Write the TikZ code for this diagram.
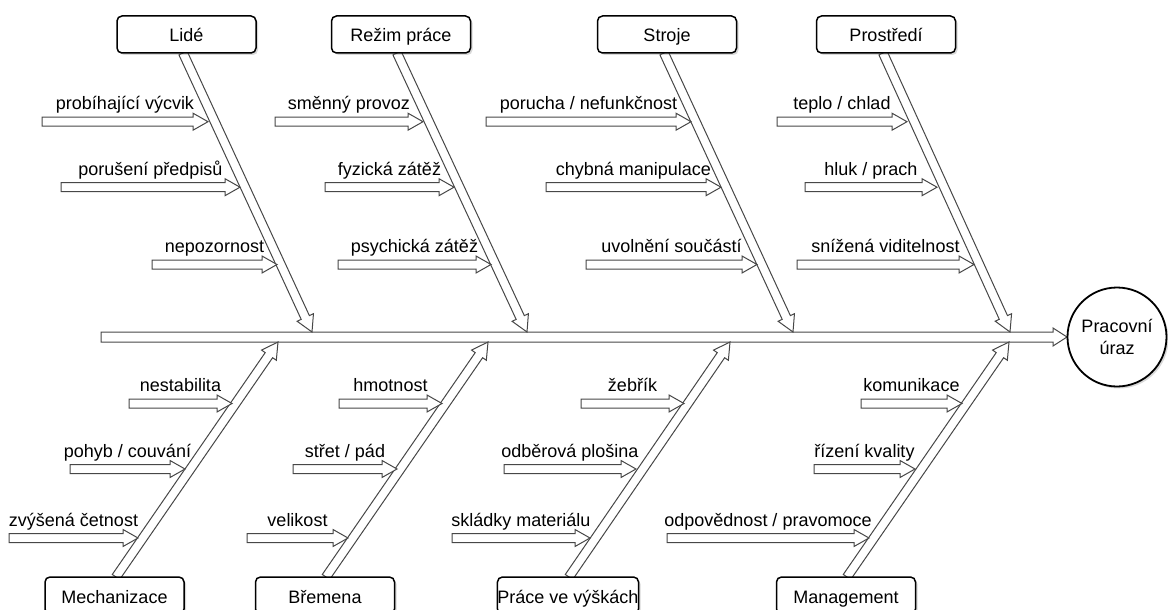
\documentclass[tikz,border=0pt]{standalone}
\usepackage{fontspec}
\setmainfont{Liberation Sans}
\usetikzlibrary{calc,shadows}
\tikzset{
  catbox/.style={draw=black, line width=1.5pt, rounded corners=5pt, fill=white,
    minimum width=139pt, minimum height=37pt, inner sep=0pt,
    font=\fontsize{18}{20}\selectfont, text height=15pt, text depth=0pt,
    drop shadow={shadow xshift=2pt, shadow yshift=-2pt, opacity=0.3}},
  lbl/.style={anchor=base, inner sep=0pt, font=\fontsize{18}{20}\selectfont},
  farrow/.style={draw=black!72, line width=1pt, fill=white, line join=miter},
}
% #1 start, #2 tip, #3 half body, #4 half head, #5 head length
\newcommand{\flexarr}[5]{%
  \coordinate (fah) at ($(#2)!#5!(#1)$);
  \draw[farrow] ($(#1)!#3!90:(#2)$) -- ($(fah)!#3!90:(#2)$) -- ($(fah)!#4!90:(#2)$)
    -- (#2) -- ($(fah)!#4!-90:(#2)$) -- ($(fah)!#3!-90:(#2)$) -- ($(#1)!#3!-90:(#2)$) -- cycle;
}
% #1 name, #2 start x, #3 tip x, #4 y, #5 label
\newcommand{\subarr}[5]{%
  \coordinate (#1s) at (#2,#4);
  \coordinate (#1t) at (#3,#4);
  \flexarr{#1s}{#1t}{4.5pt}{8.5pt}{15pt}
  \node[lbl] (#1l) at ($(#1s)!0.5!(#1t)+(0,-12)$) {#5};
}
\begin{document}
\begin{tikzpicture}[x=1pt,y=-1pt]
\useasboundingbox (0,0) rectangle (1168,610);
\clip (0,0) rectangle (1168,610);

\path (186.5,34.5) coordinate (cLide)
      (401,34.5)   coordinate (cRezim)
      (667,34.5)   coordinate (cStroje)
      (886,34.5)   coordinate (cProst)
      (114.5,595.5) coordinate (cMech)
      (325,595.5)  coordinate (cBrem)
      (568,595.5)  coordinate (cPrace)
      (846,595.5)  coordinate (cMgmt);

% spine
\coordinate (spS) at (101,337);
\coordinate (spT) at (1067,337);
\flexarr{spS}{spT}{5pt}{9pt}{14pt}

% bones
\coordinate (bLs) at (183,53);   \coordinate (bLt) at (312,332);
\coordinate (bRs) at (397,53);   \coordinate (bRt) at (527,332);
\coordinate (bSs) at (664,53);   \coordinate (bSt) at (793,332);
\coordinate (bPs) at (883,53);   \coordinate (bPt) at (1010,332);
\coordinate (bMs) at (116,577);  \coordinate (bMt) at (278,342);
\coordinate (bBs) at (326,577);  \coordinate (bBt) at (488,342);
\coordinate (bWs) at (569,577);  \coordinate (bWt) at (730,342);
\coordinate (bGs) at (847,577);  \coordinate (bGt) at (1009,342);
\flexarr{bLs}{bLt}{4.5pt}{9pt}{16pt}
\flexarr{bRs}{bRt}{4.5pt}{9pt}{16pt}
\flexarr{bSs}{bSt}{4.5pt}{9pt}{16pt}
\flexarr{bPs}{bPt}{4.5pt}{9pt}{16pt}
\flexarr{bMs}{bMt}{4.5pt}{9pt}{16pt}
\flexarr{bBs}{bBt}{4.5pt}{9pt}{16pt}
\flexarr{bWs}{bWt}{4.5pt}{9pt}{16pt}
\flexarr{bGs}{bGt}{4.5pt}{9pt}{16pt}

% sub-causes, upper
\subarr{la}{42}{208}{121.7}{probíhající výcvik}
\subarr{lb}{61}{240}{187.2}{porušení předpisů}
\subarr{lc}{152}{277}{264.5}{nepozornost}
\subarr{ra}{275}{423}{121.7}{směnný provoz}
\subarr{rb}{325}{454}{187.2}{fyzická zátěž}
\subarr{rc}{338}{491}{264.5}{psychická zátěž}
\subarr{sa}{486}{691}{121.7}{porucha / nefunkčnost}
\subarr{sb}{546}{721}{187.2}{chybná manipulace}
\subarr{sc}{586}{757}{264.5}{uvolnění součástí}
\subarr{pa}{777}{907}{121.7}{teplo / chlad}
\subarr{pb}{805}{937}{187.2}{hluk / prach}
\subarr{pc}{797}{974}{264.5}{snížená viditelnost}
% sub-causes, lower
\subarr{ma}{129}{232}{403.5}{nestabilita}
\subarr{mb}{70}{185}{469}{pohyb / couvání}
\subarr{mc}{9}{138}{538}{zvýšená četnost}
\subarr{ba}{339}{442}{403.5}{hmotnost}
\subarr{bb}{293}{397}{469}{střet / pád}
\subarr{bc}{247}{348}{538}{velikost}
\subarr{wa}{581}{684}{403.5}{žebřík}
\subarr{wb}{504}{636}{469}{odběrová plošina}
\subarr{wc}{452}{590}{538}{skládky materiálu}
\subarr{ga}{861}{962}{403.5}{komunikace}
\subarr{gb}{814}{915}{469}{řízení kvality}
\subarr{gc}{667}{869}{538}{odpovědnost / pravomoce}

% boxes
\node[catbox] (lide)  at (cLide)  {Lidé};
\node[catbox] (rezim) at (cRezim) {Režim práce};
\node[catbox] (stroje) at (cStroje) {Stroje};
\node[catbox] (prost) at (cProst) {Prostředí};
\node[catbox] (mech)  at (cMech)  {Mechanizace};
\node[catbox] (brem)  at (cBrem)  {Břemena};
\node[catbox] (prace) at (cPrace) {Práce ve výškách};
\node[catbox] (mgmt)  at (cMgmt)  {Management};

% effect
\node[circle, draw=black, line width=1.8pt, fill=white, minimum size=99pt, inner sep=0pt,
      align=center, font=\fontsize{18}{22}\selectfont,
      drop shadow={shadow xshift=2pt, shadow yshift=-2pt, opacity=0.3}]
      (effect) at (1117,337) {Pracovní\\úraz};
\end{tikzpicture}
\end{document}
